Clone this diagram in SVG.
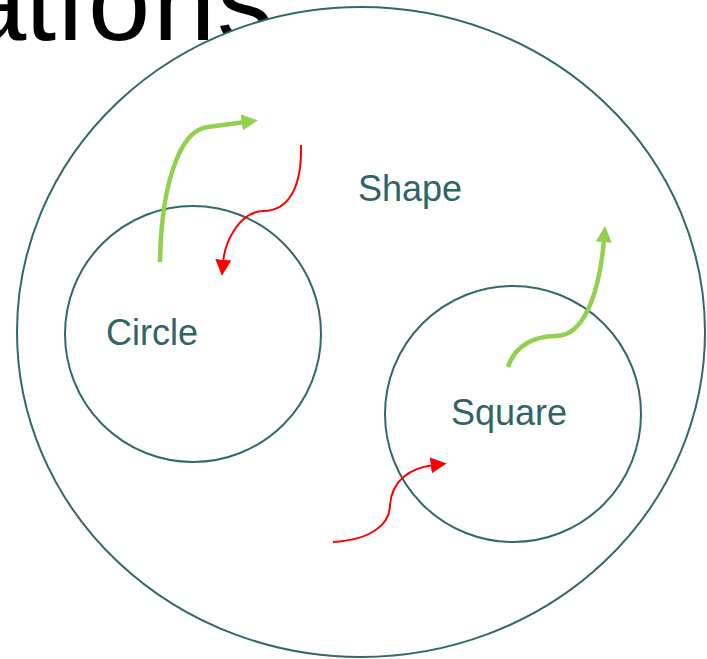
<svg xmlns="http://www.w3.org/2000/svg" width="707" height="659" viewBox="0 0 707 659">
<style>
.title{font-family:"Liberation Sans",Arial,sans-serif;font-size:112px;fill:#000}
.lbl{font-family:"Liberation Sans",Arial,sans-serif;font-size:36px;fill:#2f6565}
.shape{fill:#fff;stroke:#2f6a6a;stroke-width:2}
.g{fill:none;stroke:#92d050;stroke-width:4.5}
.r{fill:none;stroke:#ff0000;stroke-width:2}
</style>
<defs>
<marker id="ga" viewBox="0 0 10 10" refX="2" refY="5" markerWidth="3.6" markerHeight="3.6" orient="auto" markerUnits="strokeWidth"><path d="M0,0L10,5L0,10z" fill="#92d050"/></marker>
<marker id="ra" viewBox="0 0 10 10" refX="2" refY="5" markerWidth="8" markerHeight="8" orient="auto" markerUnits="strokeWidth"><path d="M0,0L10,5L0,10z" fill="#ff0000"/></marker>
</defs>
<text class="title" x="-36 25 58 88 153 217" y="40">ations</text>
<g id="shape"><ellipse class="shape" cx="361" cy="332" rx="344" ry="325"/><text class="lbl" x="358" y="201">Shape</text></g>
<g id="circle"><circle class="shape" cx="193" cy="334" r="128"/><text class="lbl" x="106" y="345">Circle</text></g>
<g id="square"><circle class="shape" cx="513" cy="414" r="128"/><text class="lbl" x="451" y="425">Square</text></g>
<g id="connectors">
<path class="g" d="M160,262 C161,190 178,130 208,127 L245,122" marker-end="url(#ga)"/>
<path class="r" d="M301,145 C302,185 290,211 263,211 C240,212 225,240 223,263" marker-end="url(#ra)"/>
<path class="g" d="M508,367 C515,345 535,336 556,336 C585,336 600,290 604,239" marker-end="url(#ga)"/>
<path class="r" d="M333,542 C370,540 390,525 390,505 C392,480 410,468 434,465" marker-end="url(#ra)"/>
</g>
</svg>
